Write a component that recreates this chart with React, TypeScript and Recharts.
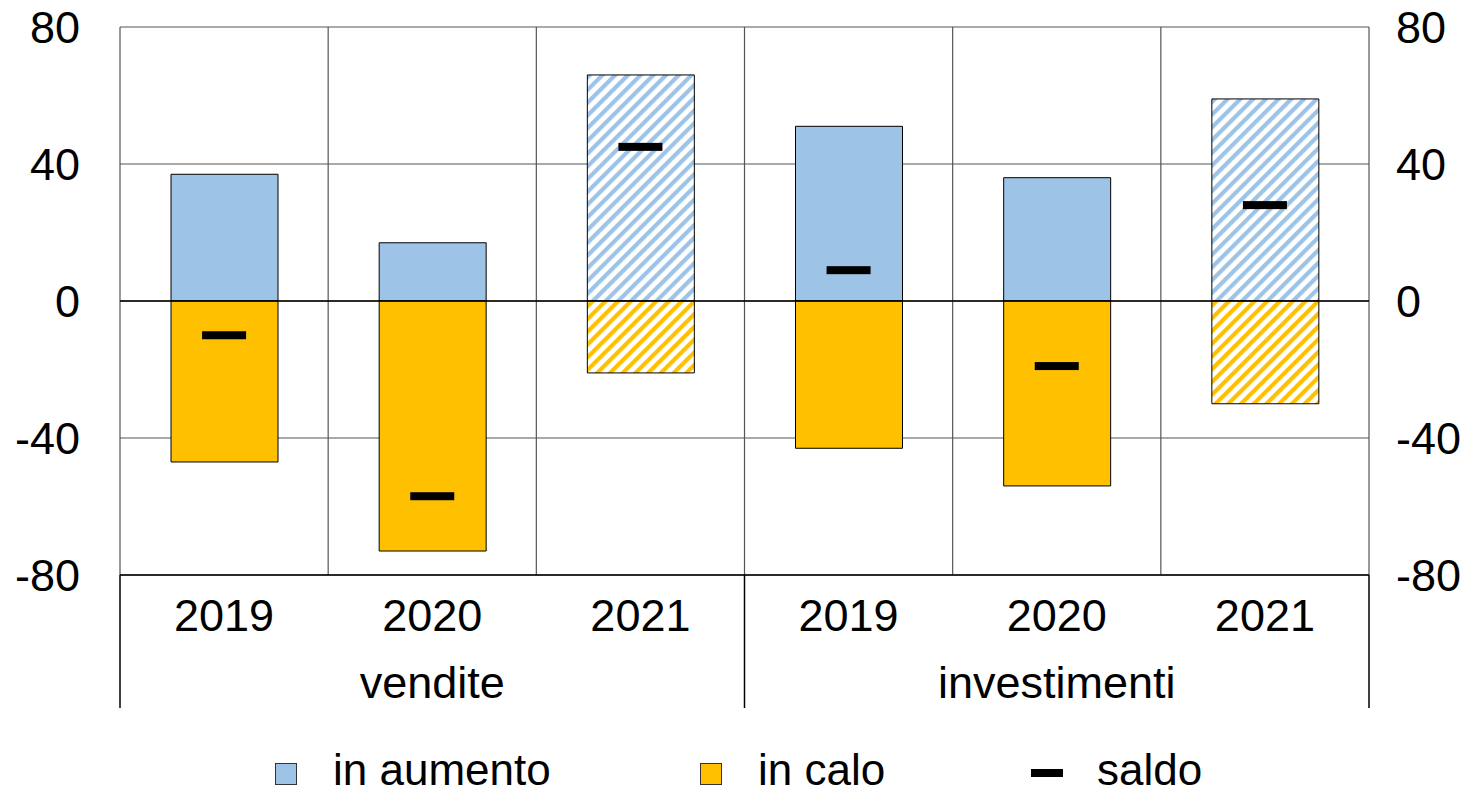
import React from 'react';
import { ComposedChart, Bar, Line, XAxis, YAxis, CartesianGrid, Legend, Cell, ReferenceLine } from 'recharts';

const years = ['2019', '2020', '2021', '2019', '2020', '2021'];
const groups = ['vendite', 'vendite', 'vendite', 'investimenti', 'investimenti', 'investimenti'];
const inAumento = [37, 17, 66, 51, 36, 59];
const inCalo = [-47, -73, -21, -43, -54, -30];
const saldo = [-10, -57, 45, 9, -19, 28];
const isForecast = [false, false, true, false, false, true];
const yTicks = [-80, -40, 0, 40, 80];

const BLUE = '#9DC3E6';
const YELLOW = '#FFC000';
const FONT = '"Liberation Sans", Arial, sans-serif';
const FS = 45;

const W = 1480;
const H = 795;
const PLOT_LEFT = 120;
const PLOT_W = 1249;
const BAND = PLOT_W / 6;
const AXIS_Y = 575;
const SEP_BOTTOM = 708;
const LEG_TOP = 745;
const LEG_H = 49;

const data = years.map((y, i) => ({
  id: i,
  up: inAumento[i],
  down: inCalo[i],
  saldo: saldo[i],
}));

const SaldoMark = (props: any) => {
  const { cx, cy } = props;
  if (cx == null || cy == null) return null;
  return <rect x={cx - 22} y={cy - 4} width={44} height={8} fill="#000" />;
};

const GroupTick = (props: any) => {
  const { x, y, index } = props;
  const lines: number[] = [];
  if (index === 0 || index === 3) lines.push(x - BAND / 2);
  if (index === 5) lines.push(x + BAND / 2);
  return (
    <g>
      {lines.map((lx) => (
        <line key={lx} x1={lx} x2={lx} y1={AXIS_Y} y2={SEP_BOTTOM} stroke="#000" strokeWidth={1.5} />
      ))}
      {index === 1 || index === 4 ? (
        <text x={x} y={y} dy="0.71em" textAnchor="middle" fontSize={FS} fill="#000" fontFamily={FONT}>
          {groups[index]}
        </text>
      ) : null}
    </g>
  );
};

const legendItems = [
  { label: 'in aumento', kind: 'box', color: BLUE, left: 275 },
  { label: 'in calo', kind: 'box', color: YELLOW, left: 700 },
  { label: 'saldo', kind: 'dash', color: '#000', left: 1031 },
];

const LegendContent = () => (
  <div style={{ position: 'relative', width: W, height: LEG_H, fontFamily: FONT }}>
    {legendItems.map((it) => (
      <div
        key={it.label}
        style={{ position: 'absolute', left: it.left, top: 0, height: LEG_H, display: 'flex', alignItems: 'flex-start' }}
      >
        {it.kind === 'box' ? (
          <div style={{ width: 20, height: 20, marginTop: 18, background: it.color, border: '1px solid #333' }} />
        ) : (
          <div style={{ width: 32, height: 8, marginTop: 24, background: '#000' }} />
        )}
        <span style={{ fontSize: 44, marginLeft: it.kind === 'box' ? 36 : 34, color: '#000', lineHeight: `${LEG_H}px` }}>
          {it.label}
        </span>
      </div>
    ))}
  </div>
);

export default function App() {
  return (
    <div style={{ position: 'absolute', left: 0, top: 0, width: W, height: H, background: '#fff', fontFamily: FONT }}>
      <ComposedChart
        width={W}
        height={H}
        data={data}
        stackOffset="sign"
        margin={{ top: 27, right: 0, bottom: 38, left: 0 }}
      >
        <defs>
          <pattern id="hatchBlue" patternUnits="userSpaceOnUse" width={9} height={9} patternTransform="rotate(45)">
            <rect width={9} height={9} fill="#fff" />
            <rect width={4.2} height={9} fill={BLUE} />
          </pattern>
          <pattern id="hatchYellow" patternUnits="userSpaceOnUse" width={9} height={9} patternTransform="rotate(45)">
            <rect width={9} height={9} fill="#fff" />
            <rect width={4.2} height={9} fill={YELLOW} />
          </pattern>
        </defs>
        <CartesianGrid
          stroke="#555"
          strokeWidth={1.2}
          yAxisId="left"
          verticalCoordinatesGenerator={() => [0, 1, 2, 3, 4, 5, 6].map((k) => PLOT_LEFT + k * BAND)}
        />
        <XAxis
          dataKey="id"
          type="category"
          tickFormatter={(v: number) => years[v]}
          height={75}
          tickLine={false}
          tickSize={0}
          tickMargin={24}
          axisLine={{ stroke: '#000', strokeWidth: 1.5 }}
          tick={{ fontSize: FS, fill: '#000', fontFamily: FONT }}
          interval={0}
        />
        <XAxis
          xAxisId="g"
          dataKey="id"
          type="category"
          height={58}
          tickLine={false}
          tickSize={0}
          tickMargin={16}
          axisLine={false}
          tick={<GroupTick />}
          interval={0}
        />
        <YAxis
          yAxisId="left"
          domain={[-80, 80]}
          ticks={yTicks}
          width={PLOT_LEFT}
          axisLine={false}
          tickLine={false}
          tickSize={0}
          tickMargin={40}
          tick={{ fontSize: FS, fill: '#000', fontFamily: FONT }}
        />
        <YAxis
          yAxisId="right"
          orientation="right"
          domain={[-80, 80]}
          ticks={yTicks}
          width={W - PLOT_LEFT - PLOT_W}
          axisLine={false}
          tickLine={false}
          tickSize={0}
          tickMargin={27}
          tick={{ fontSize: FS, fill: '#000', fontFamily: FONT }}
        />
        <ReferenceLine y={0} yAxisId="left" stroke="#000" strokeWidth={1.5} />
        <Bar dataKey="up" stackId="s" yAxisId="left" barSize={107} stroke="#000" strokeWidth={1} isAnimationActive={false}>
          {data.map((d, i) => (
            <Cell key={i} fill={isForecast[i] ? 'url(#hatchBlue)' : BLUE} />
          ))}
        </Bar>
        <Bar dataKey="down" stackId="s" yAxisId="left" barSize={107} stroke="#000" strokeWidth={1} isAnimationActive={false}>
          {data.map((d, i) => (
            <Cell key={i} fill={isForecast[i] ? 'url(#hatchYellow)' : YELLOW} />
          ))}
        </Bar>
        <Line
          dataKey="saldo"
          yAxisId="left"
          stroke="none"
          dot={<SaldoMark />}
          activeDot={false}
          isAnimationActive={false}
        />
        {/* invisible series so the mirrored right axis gets drawn */}
        <Line
          dataKey="saldo"
          yAxisId="right"
          stroke="none"
          dot={false}
          activeDot={false}
          legendType="none"
          isAnimationActive={false}
        />
        <Legend
          verticalAlign="bottom"
          content={<LegendContent />}
          wrapperStyle={{ left: 0, top: LEG_TOP, width: W, height: LEG_H }}
        />
      </ComposedChart>
    </div>
  );
}
